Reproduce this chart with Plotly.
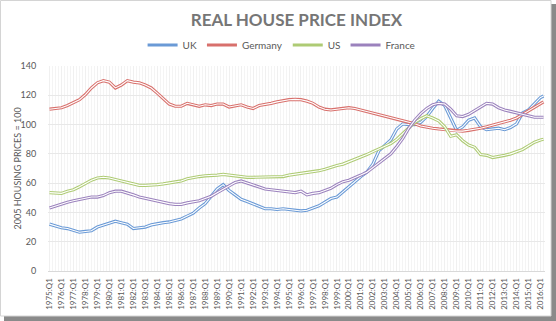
import plotly.graph_objects as go

# ---------------- data (half-yearly readings) ----------------
periods = [f"{y}:Q{q}" for y in range(1975, 2017) for q in (1, 3)][:-1] + ["2016:Q2"]

uk = [32, 30.5, 29.5, 29, 27.5, 26.5, 27, 27.5, 30, 31.5,
      33, 34, 33, 32, 29, 29.5, 30, 31.5, 32.5, 33,
      33.5, 34.5, 35.5, 37.5, 39.5, 43, 46, 51, 56, 59,
      55, 52, 49, 47.5, 46, 44, 42.5, 42.5, 42, 42.5,
      42, 41.5, 41, 41.5, 43, 44.5, 47, 49.5, 50.5, 54,
      58, 61.5, 64.5, 67.5, 73, 82, 86, 89.5, 97, 100.5,
      100, 100, 101.5, 105.5, 111, 116, 113, 105, 96, 98.5,
      103, 104.5, 98.5, 96.5, 97, 97.5, 96.5, 98, 100.5, 108,
      110, 114, 118.5, 119.5]

germany = [110.5, 111, 111.5, 113, 115, 117, 120.5, 125, 128.5, 130,
           129, 125, 127, 130, 129, 128.5, 127, 125, 121.5, 117.5,
           114, 112.5, 112.5, 114.5, 113.5, 112.5, 113.5, 113, 114, 114,
           112, 112.5, 113.5, 112, 111, 113, 113.5, 114.5, 115.5, 116.5,
           117, 117.2, 117, 116, 114.5, 112, 110.5, 110, 110.5, 111,
           111.5, 111, 110, 109, 108, 106.5, 105.5, 104.5, 103.5, 102.5,
           101.5, 100.5, 99, 98, 97.5, 97, 96.5, 96, 95.5, 95.5,
           96, 96.5, 97.5, 98.5, 99.5, 100.5, 101.5, 103, 104.5, 107,
           109.5, 112, 114.5, 115.5]

us = [53.5, 53.5, 53, 54.5, 55.5, 57.5, 60, 62, 63.5, 64,
      63.5, 62.5, 61, 60, 59.5, 58.5, 58.5, 58.5, 59, 59.5,
      60, 60.5, 61.5, 63, 64, 64.5, 65, 65, 65.5, 66,
      65.5, 64.5, 64, 64, 64, 64, 64, 64, 64.5, 64.5,
      65.5, 66, 66.5, 67, 67.5, 68.5, 69.5, 71, 72, 73,
      74.5, 76, 77.5, 79.5, 81.5, 83.5, 85, 87, 90, 94,
      98, 101.5, 104, 106, 104.5, 102.5, 98.5, 92, 93, 89,
      86, 84.5, 79.5, 79, 77.5, 78, 79, 80, 81.5, 83,
      85.5, 88, 89.5, 90]

france = [43, 44.5, 46, 47, 48, 49, 50, 50.5, 50.5, 51.5,
          53.5, 54.5, 54.5, 53.5, 52, 50.5, 49.5, 48.5, 47.5, 46.5,
          46, 45.5, 45.5, 46.5, 47, 48, 49.5, 51, 53.5, 56,
          58.5, 60.5, 61.5, 60, 58.5, 57, 56, 55.5, 55, 54,
          54, 53.5, 54.5, 52, 53, 53.5, 55, 56.5, 59, 61,
          62, 63.5, 65.5, 67.5, 70.5, 73.5, 76.5, 80, 85, 90.5,
          97.5, 103, 107.5, 111, 113.5, 114.5, 114, 110.5, 106, 105.5,
          107, 109.5, 112, 114.5, 114, 111.5, 110, 109, 108.5, 107.5,
          106, 105, 105, 105]

series_names = ["UK", "Germany", "US", "France"]
series_values = [uk, germany, us, france]
series_colors = ["#6a9ad6", "#d8706c", "#aecb74", "#9b82bd"]

tick_years = list(range(1975, 2017))
tick_labels = [f"{y}:Q1" for y in tick_years]
y_ticks = [0, 20, 40, 60, 80, 100, 120, 140]
y_title = "2005 HOUSING PRICES = 100"


def to_num(p):
    y, q = p.split(":Q")
    return int(y) + (int(q) - 1) / 4


x = [to_num(p) for p in periods]

# ---------------- figure ----------------
W, H = 556, 321
ML, MR, MT, MB = 48, 11, 66, 50
PW, PH = W - ML - MR, H - MT - MB


def px_x(px):
    return (px - ML) / PW


def px_y(py):
    return (H - MB - py) / PH


fig = go.Figure()
for name, vals, col in zip(series_names, series_values, series_colors):
    fig.add_trace(go.Scatter(x=x, y=vals, mode="lines", name=name,
                             line=dict(color=col, width=3.2), hoverinfo="skip"))
    fig.add_trace(go.Scatter(x=x, y=vals, mode="lines", showlegend=False,
                             line=dict(color="white", width=1.1), hoverinfo="skip"))

txt = "#595959"
fig.update_layout(
    width=W, height=H,
    margin=dict(l=ML, r=MR, t=MT, b=MB),
    paper_bgcolor="white", plot_bgcolor="white",
    font=dict(family="Lato, sans-serif", color=txt, size=10),
    title=dict(text="<b>REAL HOUSE PRICE INDEX</b>", x=0.5, xref="paper",
               y=1 - 20 / H, yanchor="middle",
               font=dict(family="Lato, sans-serif", size=17, color="#767676")),
    legend=dict(orientation="h", x=0.47, xanchor="center", y=px_y(45), yanchor="middle",
                font=dict(size=10, color=txt), itemwidth=30, tracegroupgap=0,
                bgcolor="rgba(0,0,0,0)"),
    shapes=[
        dict(type="rect", xref="paper", yref="paper", layer="below",
             x0=px_x(4), x1=px_x(557), y0=px_y(322), y1=px_y(4),
             fillcolor="#8a8a8a", line=dict(width=0)),
        dict(type="rect", xref="paper", yref="paper", layer="below",
             x0=px_x(0.5), x1=px_x(551), y0=px_y(316), y1=px_y(0.5),
             fillcolor="white", line=dict(color="#d4d4d4", width=1)),
    ],
    annotations=[
        dict(text=y_title, textangle=-90, showarrow=False,
             xref="paper", yref="paper", x=px_x(17), y=0.5,
             xanchor="center", yanchor="middle",
             font=dict(size=9, color=txt)),
    ],
)

fig.update_xaxes(
    range=[1975 - 0.125, 2016.25 + 0.125],
    tickmode="array", tickvals=tick_years, ticktext=tick_labels,
    tickangle=-90, tickfont=dict(size=8, color=txt),
    ticks="outside", ticklen=3, tickcolor="rgba(0,0,0,0)",
    showgrid=True, gridcolor="#f0f0f0", gridwidth=1,
    minor=dict(dtick=0.25, tick0=1975, showgrid=True, gridcolor="#f4f4f4", gridwidth=1),
    showline=True, linecolor="#d9d9d9", linewidth=1,
    zeroline=False,
)
fig.update_yaxes(
    range=[0, 140], tickmode="array", tickvals=y_ticks,
    tickfont=dict(size=9, color=txt),
    ticks="outside", ticklen=9, tickcolor="rgba(0,0,0,0)",
    showgrid=True, gridcolor="#e8e8e8", gridwidth=1,
    zeroline=False, showline=False,
)

fig.write_html("out.html")
